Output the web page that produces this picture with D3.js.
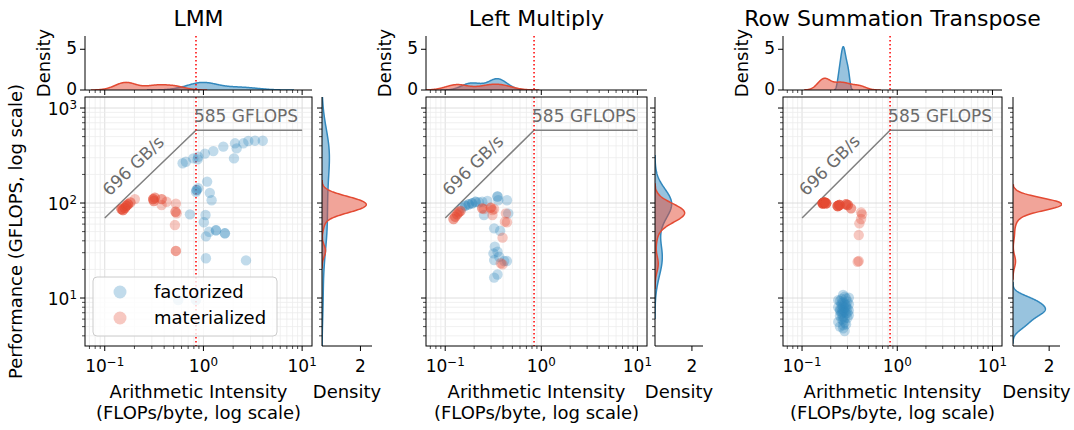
<!DOCTYPE html>
<html><head><meta charset="utf-8">
<script src="https://cdn.jsdelivr.net/npm/d3@7"></script>
<style>body{margin:0;background:#fff} svg{display:block} text{font-family:"DejaVu Sans",sans-serif;fill:#000}</style>
</head><body><svg id="chart" width="1074" height="430"></svg>
<script>
// ---------------- data ----------------
const panelTitles = ["LMM", "Left Multiply", "Row Summation Transpose"];
const seriesNames = ["factorized", "materialized"];
const seriesColors = ["#3288bd", "#e34a33"];
const peakGFLOPS = 585;
const bandwidthGBs = 696;
const xTickExps = [-1, 0, 1];
const yTickExps = [1, 2, 3];
const topDensityTicks = [0, 5];
const rightDensityTicks = [2];
// points: [arithmetic intensity, GFLOPS, overlapping count]
const lmmFactorized = [
  [0.615,262,1],[0.664,272,1],[0.789,295,1],[0.885,307,1],[0.873,288,1],[1.035,331,1],[1.26,352,1],
  [1.59,392,1],[2.09,425,1],[2.17,376,1],[2.54,425,1],[2.85,450,1],[3.33,453,1],[3.99,453,1],[2.04,295,1],
  [0.853,137,2],[0.885,143,1],[0.84,131,1],[1.09,168,1],[1.16,128,1],[1.21,107,1],
  [0.73,76,1],[1.05,74.8,1],[1.01,62.7,1],[1.14,49.9,1],[1.34,51.6,2],[1.65,48,2],[1.06,44.6,1],
  [1.06,26.2,1],[2.70,24.9,1],[0.555,9.5,1],[0.84,9.5,1]
];
const lmmMaterialized = [
  [0.148,86.5,3],[0.153,84.4,3],[0.16,89,3],[0.166,93.8,3],[0.172,96.9,3],[0.182,101.7,2],[0.202,110,1],
  [0.31,110,3],[0.322,114,2],[0.314,105,2],[0.377,110,2],[0.377,95.3,1],[0.423,103,1],
  [0.526,98.4,1],[0.522,81,2],[0.535,77.9,1],[0.514,58.6,1],[0.526,31.3,2]
];
const leftFactorized = [
  [0.15,89.3,1],[0.162,93.8,2],[0.176,96.9,2],[0.191,99.3,2],[0.207,103,2],[0.224,102,1],[0.243,103,1],
  [0.275,105,1],[0.253,74.8,1],[0.35,117,2],[0.356,107,1],[0.439,107,1],[0.453,77.8,1],
  [0.323,54.1,1],[0.373,51,1],[0.328,34.7,1],[0.318,29.5,1],[0.35,30.7,1],[0.364,27.2,1],
  [0.323,25.1,1],[0.411,24.5,1],[0.439,24.5,1],[0.35,17.7,1],[0.323,16.4,1]
];
const leftMaterialized = [
  [0.122,67.9,2],[0.127,71.8,2],[0.133,76,2],[0.138,79.8,2],[0.144,82.4,2],[0.243,87.9,2],[0.253,86.5,1],
  [0.298,89.3,2],[0.31,84.4,1],[0.323,86.5,1],[0.31,74.8,1],[0.428,77.8,1],[0.418,63.6,1],
  [0.439,62.7,1],[0.395,43.2,1],[0.395,22.6,1],[0.379,23.2,1]
];
const rowSumFactorized = [
  [0.27,10.8,1],[0.28,10.3,1],[0.26,9.8,1],[0.29,9.9,1],[0.31,10.1,1],[0.25,9.3,1],[0.27,9.0,1],[0.28,8.7,1],
  [0.26,8.5,1],[0.27,8.2,1],[0.29,8.4,1],[0.24,8.0,1],[0.28,7.9,1],[0.26,7.7,1],[0.27,7.5,1],[0.30,7.8,1],
  [0.25,7.3,1],[0.28,7.2,1],[0.27,7.0,1],[0.26,6.8,1],[0.29,6.9,1],[0.31,6.6,1],[0.25,6.5,1],[0.27,6.3,1],
  [0.28,6.1,1],[0.26,6.0,1],[0.30,6.2,1],[0.27,5.8,1],[0.24,5.6,1],[0.28,5.5,1],[0.27,5.2,1],[0.25,5.0,1],
  [0.29,5.3,1],[0.27,4.8,1],[0.28,4.5,1],[0.26,8.9,1],[0.24,9.5,1],[0.30,9.2,1],[0.31,8.6,1],[0.26,7.1,1],
  [0.31,7.4,1],[0.25,7.6,1],[0.29,8.0,1],[0.30,7.0,1]
];
const rowSumMaterialized = [
  [0.165,99.3,8],[0.172,101.7,8],[0.179,99.3,5],[0.237,93,5],[0.247,95.3,5],[0.29,96.9,3],[0.302,95.3,3],
  [0.327,87.9,2],[0.417,79.8,1],[0.427,76,1],[0.417,67.9,1],[0.4,61.1,1],[0.394,46,1],[0.384,24.1,1],[0.394,24.5,1]
];
const panelData = [
  [lmmFactorized, lmmMaterialized],
  [leftFactorized, leftMaterialized],
  [rowSumFactorized, rowSumMaterialized]
];

// ---------------- layout ----------------
const layout = [
  {mx0: 85, mx1: 312, rx0: 322, rx1: 372},
  {mx0: 426, mx1: 647, rx0: 655, rx1: 703},
  {mx0: 783, mx1: 1002, rx0: 1013, rx1: 1060}
];
const mainTop = 97, mainBottom = 346, topTop = 36, topBottom = 90;
const xDomain = [Math.pow(10, -1.2), Math.pow(10, 1.1)];
const yDomain = [Math.pow(10, 0.495), Math.pow(10, 3.116)];
const topDensMax = 6.63, rightDensMax = 2.6;
const FS_TICK = 17, FS_LABEL = 18, FS_TITLE = 22, FS_ANN = 17;

const svg = d3.select("#chart");

function logTicks(dom) {
  const out = [];
  const lo = Math.floor(Math.log10(dom[0])), hi = Math.ceil(Math.log10(dom[1]));
  for (let k = lo; k <= hi; k++) for (let m = 1; m <= 9; m++) {
    const v = m * Math.pow(10, k);
    if (v >= dom[0] * 0.9999 && v <= dom[1] * 1.0001) out.push({v, major: m === 1});
  }
  return out;
}
function pow10Label(sel, exp) {
  sel.text("10");
  sel.append("tspan").attr("dy", "-0.48em").attr("font-size", "0.7em")
    .text(exp < 0 ? "\u2212" + (-exp) : String(exp));
}
function kde(vals) {
  const n = vals.length;
  const mean = d3.mean(vals);
  const sd = Math.sqrt(d3.sum(vals, v => (v - mean) ** 2) / (n - 1));
  const bw = sd * Math.pow(n, -0.2);
  const lo = d3.min(vals) - 3 * bw, hi = d3.max(vals) + 3 * bw;
  const pts = [];
  for (let i = 0; i < 200; i++) {
    const g = lo + (hi - lo) * i / 199;
    let s = 0;
    for (const v of vals) { const z = (g - v) / bw; s += Math.exp(-0.5 * z * z); }
    pts.push([g, s / (n * bw * Math.sqrt(2 * Math.PI))]);
  }
  return pts;
}
function expand(arr) {
  const out = [];
  arr.forEach(d => { for (let i = 0; i < d[2]; i++) out.push(d); });
  return out;
}
function addClip(id, x, y, w, h) {
  svg.append("clipPath").attr("id", id).append("rect").attr("x", x).attr("y", y).attr("width", w).attr("height", h);
  return `url(#${id})`;
}

panelData.forEach((series, pi) => {
  const L = layout[pi];
  const x = d3.scaleLog().domain(xDomain).range([L.mx0, L.mx1]);
  const y = d3.scaleLog().domain(yDomain).range([mainBottom, mainTop]);
  const ty = d3.scaleLinear().domain([0, topDensMax]).range([topBottom, topTop]);
  const rx = d3.scaleLinear().domain([0, rightDensMax]).range([L.rx0, L.rx1]);
  const g = svg.append("g");
  const mainClip = addClip("clipM" + pi, L.mx0, mainTop, L.mx1 - L.mx0, mainBottom - mainTop);
  const topClip = addClip("clipT" + pi, L.mx0, topTop - 2, L.mx1 - L.mx0, topBottom - topTop + 2);
  const rightClip = addClip("clipR" + pi, L.rx0, mainTop, L.rx1 - L.rx0 + 2, mainBottom - mainTop);

  // grid
  const xt = logTicks(xDomain), yt = logTicks(yDomain);
  const grid = g.append("g");
  xt.forEach(t => grid.append("line").attr("x1", x(t.v)).attr("x2", x(t.v)).attr("y1", mainTop).attr("y2", mainBottom)
    .attr("stroke", t.major ? "#d6d6d6" : "#ececec").attr("stroke-width", 0.8));
  yt.forEach(t => grid.append("line").attr("y1", y(t.v)).attr("y2", y(t.v)).attr("x1", L.mx0).attr("x2", L.mx1)
    .attr("stroke", t.major ? "#d6d6d6" : "#ececec").attr("stroke-width", 0.8));

  const ridge = peakGFLOPS / bandwidthGBs;
  const roof = [[0.1, 0.1 * bandwidthGBs], [ridge, peakGFLOPS], [10, peakGFLOPS]];
  const plot = g.append("g").attr("clip-path", mainClip);
  plot.append("path").attr("d", d3.line().x(d => x(d[0])).y(d => y(d[1]))(roof))
    .attr("fill", "none").attr("stroke", "#808080").attr("stroke-width", 1.5);
  plot.append("line").attr("x1", x(ridge)).attr("x2", x(ridge)).attr("y1", mainTop).attr("y2", mainBottom)
    .attr("stroke", "#ff0000").attr("stroke-width", 1.5).attr("stroke-dasharray", "1.5,2.5");

  // scatter
  series.forEach((pts, si) => {
    plot.append("g").selectAll("circle").data(expand(pts)).join("circle")
      .attr("cx", d => x(d[0])).attr("cy", d => y(d[1])).attr("r", 5.2)
      .attr("fill", seriesColors[si]).attr("fill-opacity", 0.3);
  });

  // roofline labels
  g.append("text").attr("x", x(ridge) - 2).attr("y", y(peakGFLOPS) - 8).attr("font-size", FS_ANN).style("fill", "#6b6b6b").text(peakGFLOPS + " GFLOPS");
  const p0 = [x(0.1), y(0.1 * bandwidthGBs)], p1 = [x(ridge), y(peakGFLOPS)];
  const ang = Math.atan2(p1[1] - p0[1], p1[0] - p0[0]);
  const along = 18, off = 12;
  const tx = p0[0] + along * Math.cos(ang) + off * Math.sin(ang);
  const tyy = p0[1] + along * Math.sin(ang) - off * Math.cos(ang);
  g.append("text").attr("transform", `translate(${tx},${tyy}) rotate(${ang * 180 / Math.PI})`)
    .attr("font-size", FS_ANN).style("fill", "#6b6b6b").text(bandwidthGBs + " GB/s");

  // main frame
  g.append("rect").attr("x", L.mx0).attr("y", mainTop).attr("width", L.mx1 - L.mx0).attr("height", mainBottom - mainTop)
    .attr("fill", "none").attr("stroke", "#000").attr("stroke-width", 1);

  // main ticks
  xt.forEach(t => g.append("line").attr("x1", x(t.v)).attr("x2", x(t.v)).attr("y1", mainBottom).attr("y2", mainBottom + (t.major ? 5 : 3)).attr("stroke", "#000").attr("stroke-width", t.major ? 1 : 0.7));
  yt.forEach(t => g.append("line").attr("y1", y(t.v)).attr("y2", y(t.v)).attr("x1", L.mx0).attr("x2", L.mx0 - (t.major ? 5 : 3)).attr("stroke", "#000").attr("stroke-width", t.major ? 1 : 0.7));
  xTickExps.forEach(e => {
    const t = g.append("text").attr("x", x(Math.pow(10, e))).attr("y", mainBottom + 26).attr("text-anchor", "middle").attr("font-size", FS_TICK);
    pow10Label(t, e);
  });
  if (pi === 0) {
    yTickExps.forEach(e => {
      const t = g.append("text").attr("x", L.mx0 - 8).attr("y", y(Math.pow(10, e)) + 7).attr("text-anchor", "end").attr("font-size", FS_TICK);
      pow10Label(t, e);
    });
    g.append("text").attr("transform", `translate(22,${(mainTop + mainBottom) / 2 + 10}) rotate(-90)`).attr("text-anchor", "middle")
      .attr("font-size", FS_LABEL).text("Performance (GFLOPS, log scale)");
  }
  const mcx = (L.mx0 + L.mx1) / 2;
  g.append("text").attr("x", mcx).attr("y", 398).attr("text-anchor", "middle").attr("font-size", FS_LABEL).text("Arithmetic Intensity");
  g.append("text").attr("x", mcx).attr("y", 419).attr("text-anchor", "middle").attr("font-size", FS_LABEL).text("(FLOPs/byte, log scale)");
  g.append("text").attr("x", mcx).attr("y", 26).attr("text-anchor", "middle").attr("font-size", FS_TITLE).text(panelTitles[pi]);

  // marginal KDEs (log space, common norm)
  const expanded = series.map(expand);
  const total = d3.sum(expanded, e => e.length);
  const topG = g.append("g").attr("clip-path", topClip), rightG = g.append("g").attr("clip-path", rightClip);
  expanded.forEach((pts, si) => {
    const frac = pts.length / total;
    const kx = kde(pts.map(d => Math.log10(d[0]))).map(d => [d[0], d[1] * frac]);
    const ky = kde(pts.map(d => Math.log10(d[1]))).map(d => [d[0], d[1] * frac]);
    const areaT = d3.area().x(d => x(Math.pow(10, d[0]))).y0(ty(0)).y1(d => ty(d[1]));
    const lineT = d3.line().x(d => x(Math.pow(10, d[0]))).y(d => ty(d[1]));
    topG.append("path").attr("d", areaT(kx)).attr("fill", seriesColors[si]).attr("fill-opacity", 0.5);
    topG.append("path").attr("d", lineT(kx)).attr("fill", "none").attr("stroke", seriesColors[si]).attr("stroke-width", 1.5);
    const areaR = d3.area().y(d => y(Math.pow(10, d[0]))).x0(rx(0)).x1(d => rx(d[1]));
    const lineR = d3.line().y(d => y(Math.pow(10, d[0]))).x(d => rx(d[1]));
    rightG.append("path").attr("d", areaR(ky)).attr("fill", seriesColors[si]).attr("fill-opacity", 0.5);
    rightG.append("path").attr("d", lineR(ky)).attr("fill", "none").attr("stroke", seriesColors[si]).attr("stroke-width", 1.5);
  });
  // top marginal dotted line
  g.append("line").attr("x1", x(ridge)).attr("x2", x(ridge)).attr("y1", topTop).attr("y2", topBottom)
    .attr("stroke", "#ff0000").attr("stroke-width", 1.5).attr("stroke-dasharray", "1.5,2.5");
  // top marginal axes
  g.append("line").attr("x1", L.mx0).attr("x2", L.mx0).attr("y1", topTop).attr("y2", topBottom).attr("stroke", "#000");
  g.append("line").attr("x1", L.mx0).attr("x2", L.mx1).attr("y1", topBottom).attr("y2", topBottom).attr("stroke", "#000");
  xt.forEach(t => g.append("line").attr("x1", x(t.v)).attr("x2", x(t.v)).attr("y1", topBottom).attr("y2", topBottom + (t.major ? 5 : 3)).attr("stroke", "#000").attr("stroke-width", t.major ? 1 : 0.7));
  topDensityTicks.forEach(v => {
    g.append("line").attr("x1", L.mx0).attr("x2", L.mx0 - 5).attr("y1", ty(v)).attr("y2", ty(v)).attr("stroke", "#000");
    g.append("text").attr("x", L.mx0 - 8).attr("y", ty(v) + 5).attr("text-anchor", "end").attr("font-size", FS_TICK).text(v);
  });
  g.append("text").attr("transform", `translate(${L.mx0 - 41},${(topTop + topBottom) / 2}) rotate(-90)`).attr("text-anchor", "middle")
    .attr("dy", "0.35em").attr("font-size", FS_LABEL).text("Density");
  // right marginal axes
  g.append("line").attr("x1", L.rx0).attr("x2", L.rx0).attr("y1", mainTop).attr("y2", mainBottom).attr("stroke", "#000");
  g.append("line").attr("x1", L.rx0).attr("x2", L.rx1).attr("y1", mainBottom).attr("y2", mainBottom).attr("stroke", "#000");
  yt.forEach(t => g.append("line").attr("y1", y(t.v)).attr("y2", y(t.v)).attr("x1", L.rx0).attr("x2", L.rx0 - (t.major ? 5 : 3)).attr("stroke", "#000").attr("stroke-width", t.major ? 1 : 0.7));
  rightDensityTicks.forEach(v => {
    g.append("line").attr("x1", rx(v)).attr("x2", rx(v)).attr("y1", mainBottom).attr("y2", mainBottom + 5).attr("stroke", "#000");
    g.append("text").attr("x", rx(v)).attr("y", mainBottom + 26).attr("text-anchor", "middle").attr("font-size", FS_TICK).text(v);
  });
  g.append("text").attr("x", (L.rx0 + L.rx1) / 2).attr("y", 398).attr("text-anchor", "middle").attr("font-size", FS_LABEL).text("Density");

  // legend
  if (pi === 0) {
    const lg = g.append("g");
    lg.append("rect").attr("x", 93).attr("y", 277).attr("width", 184).attr("height", 59).attr("rx", 4)
      .attr("fill", "#fff").attr("fill-opacity", 0.8).attr("stroke", "#cccccc");
    seriesNames.forEach((nm, si) => {
      const yy = 292 + si * 26;
      lg.append("circle").attr("cx", 120).attr("cy", yy).attr("r", 6.5).attr("fill", seriesColors[si]).attr("fill-opacity", 0.3);
      lg.append("text").attr("x", 154).attr("y", yy + 6).attr("font-size", FS_LABEL).text(nm);
    });
  }
});
</script></body></html>
